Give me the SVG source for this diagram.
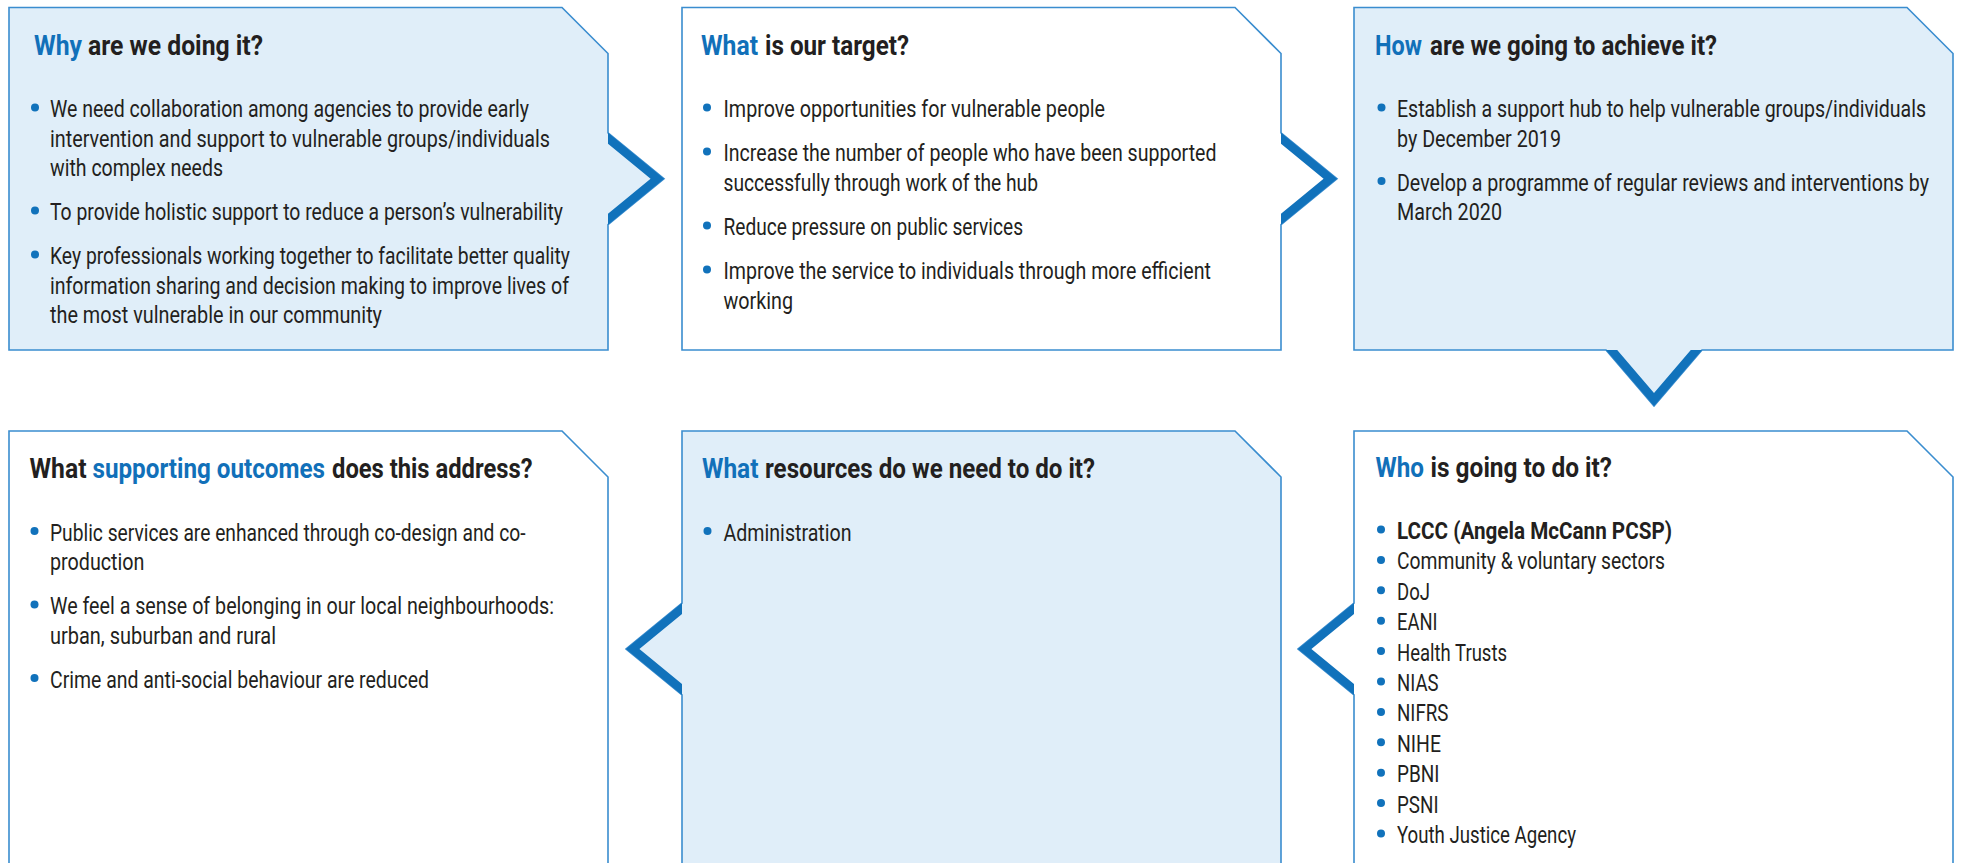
<svg xmlns="http://www.w3.org/2000/svg" width="1961" height="863" viewBox="0 0 1961 863">
<style>
.box{stroke:#3a8dcf;stroke-width:1.6;stroke-linejoin:miter}
.blue{fill:#e0eef9}
.white{fill:#ffffff}
.chev{fill:#1172bb}
.t{font-family:Roboto,'Liberation Sans',sans-serif;font-size:27px;font-weight:700;fill:#231f20}
.hl{fill:#1170b9}
.b{font-family:Roboto,'Liberation Sans',sans-serif;font-size:23.5px;fill:#231f20}
.bn{font-family:Roboto,'Liberation Sans',sans-serif;font-size:19.5px;fill:#231f20}
.bb{font-weight:700}
.dot{fill:#1172bb}
</style>
<rect width="1961" height="863" fill="#ffffff"/>

<g id="why">
<path class="box blue" d="M9,7.5 H562 L608,53.5 V132.75 L664,178.75 L608,224.75 V350 H9 Z"/>
<text class="t" y="54.5"><tspan class="hl" x="34" textLength="48" lengthAdjust="spacingAndGlyphs">Why</tspan> <tspan x="88" textLength="175" lengthAdjust="spacingAndGlyphs">are we doing it?</tspan></text>
<circle class="dot" cx="35" cy="107.5" r="4"/>
<circle class="dot" cx="35" cy="210.5" r="4"/>
<circle class="dot" cx="35" cy="254.5" r="4"/>
<text class="b" x="50" y="117" textLength="479" lengthAdjust="spacingAndGlyphs">We need collaboration among agencies to provide early</text>
<text class="b" x="50" y="146.5" textLength="500" lengthAdjust="spacingAndGlyphs">intervention and support to vulnerable groups/individuals</text>
<text class="b" x="50" y="176" textLength="173" lengthAdjust="spacingAndGlyphs">with complex needs</text>
<text class="b" x="50" y="220" textLength="513" lengthAdjust="spacingAndGlyphs">To provide holistic support to reduce a person’s vulnerability</text>
<text class="b" x="50" y="264" textLength="520" lengthAdjust="spacingAndGlyphs">Key professionals working together to facilitate better quality</text>
<text class="b" x="50" y="293.5" textLength="519" lengthAdjust="spacingAndGlyphs">information sharing and decision making to improve lives of</text>
<text class="b" x="50" y="323" textLength="332" lengthAdjust="spacingAndGlyphs">the most vulnerable in our community</text>
</g>

<g id="what-target">
<path class="box white" d="M682,7.5 H1235 L1281,53.5 V132.75 L1337,178.75 L1281,224.75 V350 H682 Z"/>
<text class="t" y="54.5"><tspan class="hl" x="701" textLength="57" lengthAdjust="spacingAndGlyphs">What</tspan> <tspan x="765" textLength="144" lengthAdjust="spacingAndGlyphs">is our target?</tspan></text>
<circle class="dot" cx="707" cy="107.5" r="4"/>
<circle class="dot" cx="707" cy="151.5" r="4"/>
<circle class="dot" cx="707" cy="225.5" r="4"/>
<circle class="dot" cx="707" cy="269.5" r="4"/>
<text class="b" x="723.5" y="117" textLength="381.5" lengthAdjust="spacingAndGlyphs">Improve opportunities for vulnerable people</text>
<text class="b" x="723.5" y="161" textLength="493" lengthAdjust="spacingAndGlyphs">Increase the number of people who have been supported</text>
<text class="b" x="723.5" y="190.5" textLength="314.5" lengthAdjust="spacingAndGlyphs">successfully through work of the hub</text>
<text class="b" x="723.5" y="235" textLength="299.5" lengthAdjust="spacingAndGlyphs">Reduce pressure on public services</text>
<text class="b" x="723.5" y="279" textLength="487.5" lengthAdjust="spacingAndGlyphs">Improve the service to individuals through more efficient</text>
<text class="b" x="723.5" y="308.5" textLength="69.5" lengthAdjust="spacingAndGlyphs">working</text>
</g>

<g id="how">
<path class="box blue" d="M1354,7.5 H1907 L1953,53.5 V350 H1702 L1654,406 L1606,350 H1354 Z"/>
<text class="t" y="54.5"><tspan class="hl" x="1375" textLength="47" lengthAdjust="spacingAndGlyphs">How</tspan> <tspan x="1430" textLength="287" lengthAdjust="spacingAndGlyphs">are we going to achieve it?</tspan></text>
<circle class="dot" cx="1381.5" cy="107.5" r="4"/>
<circle class="dot" cx="1381.5" cy="181" r="4"/>
<text class="bn" transform="translate(1397,117) scale(1,1.205)" x="0" y="0" textLength="529" lengthAdjust="spacingAndGlyphs">Establish a support hub to help vulnerable groups/individuals</text>
<text class="b" x="1397" y="146.5" textLength="164" lengthAdjust="spacingAndGlyphs">by December 2019</text>
<text class="bn" transform="translate(1397,190.5) scale(1,1.205)" x="0" y="0" textLength="532" lengthAdjust="spacingAndGlyphs">Develop a programme of regular reviews and interventions by</text>
<text class="b" x="1397" y="220" textLength="105" lengthAdjust="spacingAndGlyphs">March 2020</text>
</g>

<g id="outcomes">
<path class="box white" d="M9,431 H562 L608,477 V870 H9 Z"/>
<text class="t" y="478"><tspan x="29.5" textLength="57" lengthAdjust="spacingAndGlyphs">What</tspan> <tspan class="hl" x="92.5" textLength="232.5" lengthAdjust="spacingAndGlyphs">supporting outcomes</tspan> <tspan x="332" textLength="200.5" lengthAdjust="spacingAndGlyphs">does this address?</tspan></text>
<circle class="dot" cx="34.5" cy="531" r="4"/>
<circle class="dot" cx="34.5" cy="604.5" r="4"/>
<circle class="dot" cx="34.5" cy="678" r="4"/>
<text class="b" x="50" y="540.5" textLength="475.5" lengthAdjust="spacingAndGlyphs">Public services are enhanced through co-design and co-</text>
<text class="b" x="50" y="570" textLength="94.5" lengthAdjust="spacingAndGlyphs">production</text>
<text class="b" x="50" y="614" textLength="504" lengthAdjust="spacingAndGlyphs">We feel a sense of belonging in our local neighbourhoods:</text>
<text class="b" x="50" y="643.5" textLength="226" lengthAdjust="spacingAndGlyphs">urban, suburban and rural</text>
<text class="b" x="50" y="687.5" textLength="379" lengthAdjust="spacingAndGlyphs">Crime and anti-social behaviour are reduced</text>
</g>

<g id="resources">
<path class="box blue" d="M682,431 H1235 L1281,477 V870 H682 V695 L626,649 L682,603 Z"/>
<text class="t" y="478"><tspan class="hl" x="702" textLength="56.5" lengthAdjust="spacingAndGlyphs">What</tspan> <tspan x="765" textLength="330" lengthAdjust="spacingAndGlyphs">resources do we need to do it?</tspan></text>
<circle class="dot" cx="707.5" cy="531" r="4"/>
<text class="b" x="723.5" y="540.5" textLength="128" lengthAdjust="spacingAndGlyphs">Administration</text>
</g>

<g id="who">
<path class="box white" d="M1354,431 H1907 L1953,477 V870 H1354 V695 L1298,649 L1354,603 Z"/>
<text class="t" y="477"><tspan class="hl" x="1375.5" textLength="48.5" lengthAdjust="spacingAndGlyphs">Who</tspan> <tspan x="1430.5" textLength="181.5" lengthAdjust="spacingAndGlyphs">is going to do it?</tspan></text>
<circle class="dot" cx="1381" cy="529.5" r="4"/>
<circle class="dot" cx="1381" cy="559.9" r="4"/>
<circle class="dot" cx="1381" cy="590.3" r="4"/>
<circle class="dot" cx="1381" cy="620.7" r="4"/>
<circle class="dot" cx="1381" cy="651.1" r="4"/>
<circle class="dot" cx="1381" cy="681.5" r="4"/>
<circle class="dot" cx="1381" cy="711.9" r="4"/>
<circle class="dot" cx="1381" cy="742.3" r="4"/>
<circle class="dot" cx="1381" cy="772.7" r="4"/>
<circle class="dot" cx="1381" cy="803.1" r="4"/>
<circle class="dot" cx="1381" cy="833.5" r="4"/>
<text class="b bb" x="1397" y="539" textLength="275" lengthAdjust="spacingAndGlyphs">LCCC (Angela McCann PCSP)</text>
<text class="b" x="1397" y="569.4" textLength="268" lengthAdjust="spacingAndGlyphs">Community &amp; voluntary sectors</text>
<text class="b" x="1397" y="599.8" textLength="33" lengthAdjust="spacingAndGlyphs">DoJ</text>
<text class="b" x="1397" y="630.2" textLength="40.5" lengthAdjust="spacingAndGlyphs">EANI</text>
<text class="b" x="1397" y="660.6" textLength="110" lengthAdjust="spacingAndGlyphs">Health Trusts</text>
<text class="b" x="1397" y="691" textLength="41.5" lengthAdjust="spacingAndGlyphs">NIAS</text>
<text class="b" x="1397" y="721.4" textLength="51.5" lengthAdjust="spacingAndGlyphs">NIFRS</text>
<text class="b" x="1397" y="751.8" textLength="44" lengthAdjust="spacingAndGlyphs">NIHE</text>
<text class="b" x="1397" y="782.2" textLength="42.5" lengthAdjust="spacingAndGlyphs">PBNI</text>
<text class="b" x="1397" y="812.6" textLength="41.5" lengthAdjust="spacingAndGlyphs">PSNI</text>
<text class="b" x="1397" y="843" textLength="179" lengthAdjust="spacingAndGlyphs">Youth Justice Agency</text>
</g>

<g id="connectors">
<path class="chev" d="M608,132.75 L664,178.75 L608,224.75 V213.75 L650.6,178.75 L608,143.75 Z"/>
<path class="chev" d="M1281,132.75 L1337,178.75 L1281,224.75 V213.75 L1323.6,178.75 L1281,143.75 Z"/>
<path class="chev" d="M1606,350 L1654,406 L1702,350 H1690.8 L1654,393 L1617.2,350 Z"/>
<path class="chev" d="M1354,603 L1298,649 L1354,695 V684 L1311.4,649 L1354,614 Z"/>
<path class="chev" d="M682,603 L626,649 L682,695 V684 L639.4,649 L682,614 Z"/>
</g>
</svg>
